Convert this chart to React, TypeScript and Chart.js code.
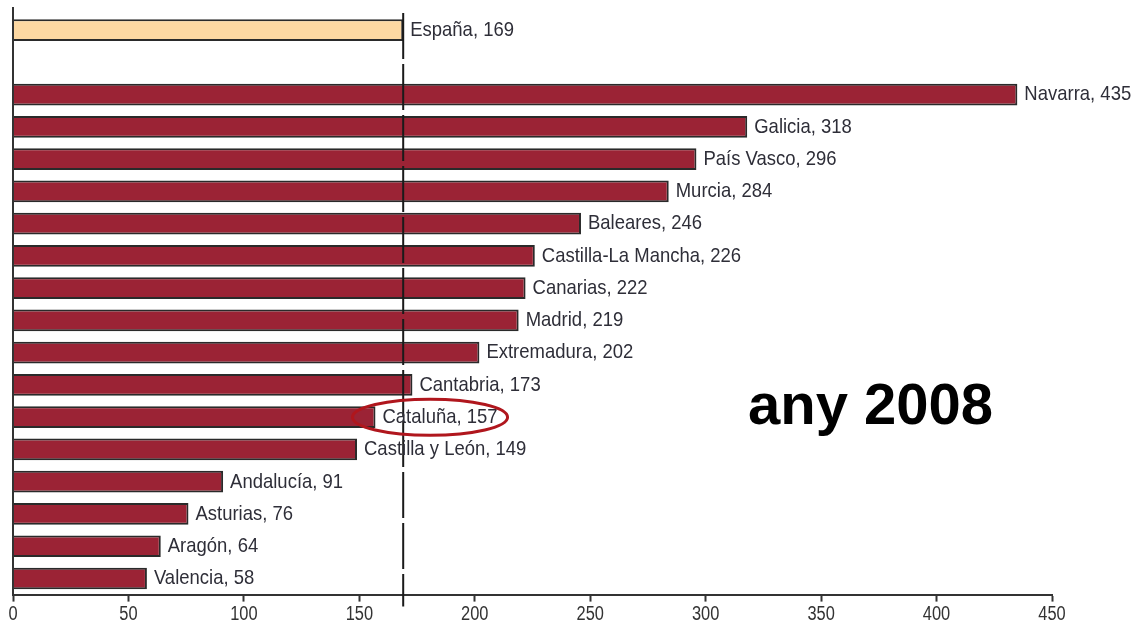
import React, { useEffect, useRef } from "react";
import { Chart, registerables } from "chart.js";

Chart.register(...registerables);

const regions = [
  "España", "", "Navarra", "Galicia", "País Vasco", "Murcia", "Baleares",
  "Castilla-La Mancha", "Canarias", "Madrid", "Extremadura", "Cantabria",
  "Cataluña", "Castilla y León", "Andalucía", "Asturias", "Aragón", "Valencia",
];
const values: (number | null)[] = [
  169, null, 435, 318, 296, 284, 246, 226, 222, 219, 202, 173, 157, 149, 91, 76, 64, 58,
];
const xTicks = [0, 50, 100, 150, 200, 250, 300, 350, 400, 450];
const spainAverage = 169;
const highlighted = "Cataluña";
const yearLabel = "any 2008";

const SANS = '"Liberation Sans", Arial, sans-serif';

function narrowText(ctx: any, text: string, x: number, y: number, size: number, squeeze: number, align: "left" | "center") {
  ctx.save();
  ctx.font = `${size}px ${SANS}`;
  const w = ctx.measureText(text).width * squeeze;
  const startX = align === "center" ? x - w / 2 : x;
  ctx.translate(startX, y);
  ctx.scale(squeeze, 1);
  ctx.textAlign = "left";
  ctx.fillText(text, 0, 0);
  ctx.restore();
  return w;
}

const overlay = {
  id: "overlay",
  afterDatasetsDraw(chart: any) {
    const { ctx, chartArea, scales } = chart;
    const xs = scales.x;
    const ys = scales.y;
    ctx.save();
    // y axis line
    ctx.strokeStyle = "#333";
    ctx.lineWidth = 2;
    ctx.beginPath();
    ctx.moveTo(chartArea.left, chartArea.top - 7);
    ctx.lineTo(chartArea.left, chartArea.bottom);
    ctx.stroke();

    // dashed average line
    const ax = xs.getPixelForValue(spainAverage);
    ctx.strokeStyle = "#1a1a1a";
    ctx.lineWidth = 2;
    ctx.setLineDash([46, 5]);
    ctx.beginPath();
    ctx.moveTo(ax, chartArea.top - 1);
    ctx.lineTo(ax, chartArea.bottom + 12);
    ctx.stroke();
    ctx.setLineDash([]);

    // value labels
    ctx.fillStyle = "#2e2e38";
    ctx.textBaseline = "middle";
    regions.forEach((name, i) => {
      const v = values[i];
      if (v == null || !name) return;
      const text = `${name}, ${v}`;
      const x = xs.getPixelForValue(v) + 7;
      const y = ys.getPixelForValue(i);
      const w = narrowText(ctx, text, x, y, 21, 0.88, "left");
      if (name === highlighted) {
        ctx.strokeStyle = "#b0161d";
        ctx.lineWidth = 3;
        ctx.beginPath();
        ctx.ellipse(x + w / 2 - 10, y, w / 2 + 20, 18, 0, 0, Math.PI * 2);
        ctx.stroke();
      }
    });

    // x tick labels
    ctx.fillStyle = "#333";
    ctx.textBaseline = "middle";
    xTicks.forEach((t) => {
      narrowText(ctx, String(t), xs.getPixelForValue(t), chartArea.bottom + 20, 20, 0.82, "center");
    });

    // year label
    ctx.font = `bold 58px ${SANS}`;
    ctx.fillStyle = "#000";
    ctx.textAlign = "left";
    ctx.textBaseline = "alphabetic";
    ctx.fillText(yearLabel, 748, 424);
    ctx.restore();
  },
};

export default function App() {
  const ref = useRef<HTMLCanvasElement | null>(null);
  useEffect(() => {
    if (!ref.current) return;
    const chart = new Chart(ref.current, {
      type: "bar",
      data: {
        labels: regions,
        datasets: [
          {
            data: values as any,
            backgroundColor: regions.map((r) => (r === "España" ? "#fdd8a2" : "#9b2335")),
            borderColor: "#2a2a2a",
            borderWidth: 2,
            barPercentage: 0.84,
            categoryPercentage: 0.8,
          },
        ],
      },
      options: {
        indexAxis: "y",
        animation: false,
        responsive: false,
        maintainAspectRatio: false,
        layout: { padding: { left: 13, right: 87, top: 14, bottom: 0 } },
        plugins: { legend: { display: false }, tooltip: { enabled: false } },
        scales: {
          x: {
            type: "linear",
            min: 0,
            max: 450,
            afterBuildTicks: (axis: any) => {
              axis.ticks = xTicks.map((v) => ({ value: v }));
            },
            grid: { display: true, drawOnChartArea: false, drawTicks: true, tickLength: 7, tickColor: "#333", tickWidth: 2 } as any,
            border: { display: true, color: "#333", width: 2 },
            ticks: { color: "rgba(0,0,0,0)", font: { family: SANS, size: 17 }, padding: 2, maxRotation: 0 },
          },
          y: {
            type: "category",
            grid: { display: false, drawTicks: false },
            border: { display: false },
            ticks: { display: false },
          },
        },
      },
      plugins: [overlay],
    });
    return () => chart.destroy();
  }, []);
  return (
    <div style={{ position: "absolute", left: 0, top: 0, width: 1139, height: 626, background: "#fff" }}>
      <canvas ref={ref} width={1139} height={626} style={{ width: 1139, height: 626 }} />
    </div>
  );
}
